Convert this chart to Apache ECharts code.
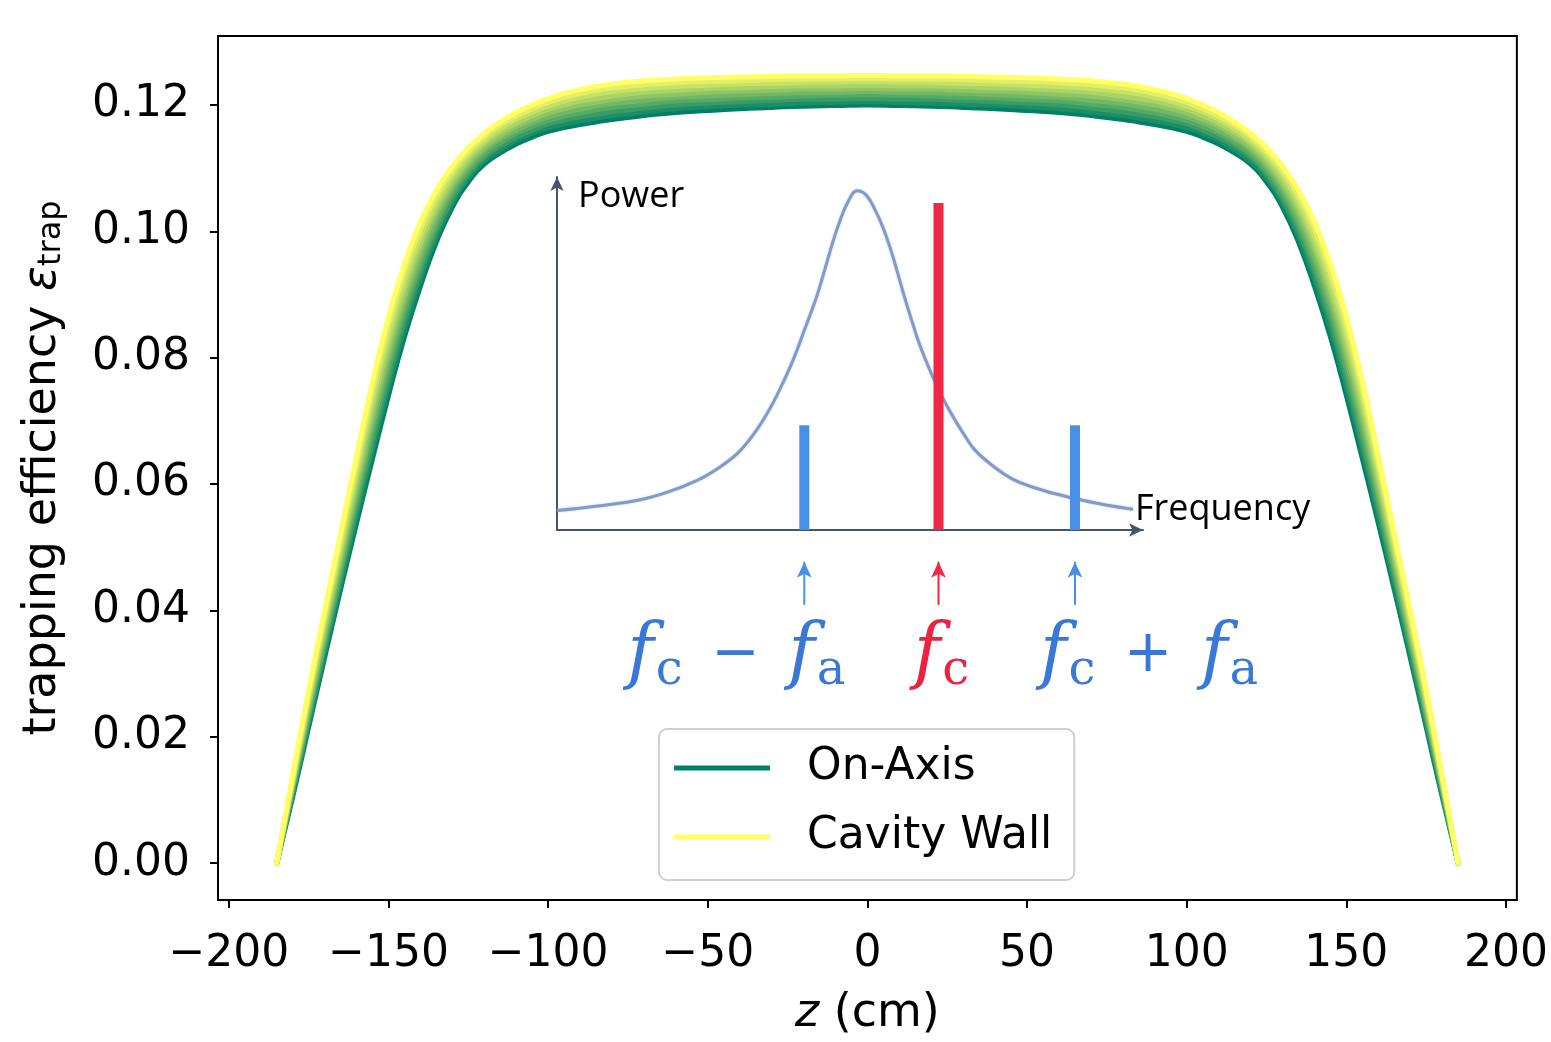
<!DOCTYPE html>
<html>
<head>
<meta charset="utf-8">
<script src="https://cdn.jsdelivr.net/npm/echarts@6/dist/echarts.min.js"></script>
<style>
html,body{margin:0;padding:0;background:#fff;}
#chart{width:1551px;height:1042px;}
</style>
</head>
<body>
<div id="chart"></div>
<script>
// ---------- main chart data ----------
const zValues = [-185,-180,-175,-170,-165,-160,-155,-150,-145,-140,-135,-130,-125,-120,-115,-110,-105,-100,-95,-90,-85,-80,-70,-60,-50,-40,-30,-20,-10,0,10,20,30,40,50,60,70,80,85,90,95,100,105,110,115,120,125,130,135,140,145,150,155,160,165,170,175,180,185];

const curveOnAxis = [0,0.0105,0.0215,0.0325,0.0433,0.0538,0.0640,0.0740,0.0833,0.0913,0.0983,0.1038,0.1078,0.1106,0.1124,0.1138,0.1149,0.1158,0.1164,0.1169,0.1173,0.1177,0.1183,0.1188,0.1191,0.1194,0.1196,0.1198,0.1199,0.1200,
  0.1199,0.1198,0.1196,0.1194,0.1191,0.1188,0.1183,0.1177,0.1173,0.1169,0.1164,0.1158,0.1149,0.1138,0.1124,0.1106,0.1078,0.1038,0.0983,0.0913,0.0833,0.0740,0.0640,0.0538,0.0433,0.0325,0.0215,0.0105,0];
const curveR1 = [0,0.0109,0.0222,0.0333,0.0443,0.0550,0.0654,0.0754,0.0846,0.0924,0.0992,0.1045,0.1084,0.1111,0.1129,0.1144,0.1155,0.1164,0.1170,0.1175,0.1179,0.1183,0.1189,0.1194,0.1197,0.1200,0.1201,0.1203,0.1204,0.1205,
  0.1204,0.1203,0.1201,0.1200,0.1197,0.1194,0.1189,0.1183,0.1179,0.1175,0.1170,0.1164,0.1155,0.1144,0.1129,0.1111,0.1084,0.1045,0.0992,0.0924,0.0846,0.0754,0.0654,0.0550,0.0443,0.0333,0.0222,0.0109,0];
const curveR2 = [0,0.0113,0.0228,0.0342,0.0453,0.0562,0.0667,0.0768,0.0859,0.0936,0.1001,0.1052,0.1090,0.1117,0.1135,0.1149,0.1160,0.1170,0.1176,0.1181,0.1185,0.1189,0.1195,0.1200,0.1203,0.1205,0.1207,0.1209,0.1209,0.1210,
  0.1209,0.1209,0.1207,0.1205,0.1203,0.1200,0.1195,0.1189,0.1185,0.1181,0.1176,0.1170,0.1160,0.1149,0.1135,0.1117,0.1090,0.1052,0.1001,0.0936,0.0859,0.0768,0.0667,0.0562,0.0453,0.0342,0.0228,0.0113,0];
const curveR3 = [0,0.0117,0.0235,0.0350,0.0463,0.0574,0.0681,0.0782,0.0872,0.0947,0.1010,0.1060,0.1096,0.1122,0.1140,0.1155,0.1166,0.1175,0.1182,0.1187,0.1192,0.1196,0.1201,0.1206,0.1208,0.1211,0.1212,0.1214,0.1215,0.1216,
  0.1215,0.1214,0.1212,0.1211,0.1208,0.1206,0.1201,0.1196,0.1192,0.1187,0.1182,0.1175,0.1166,0.1155,0.1140,0.1122,0.1096,0.1060,0.1010,0.0947,0.0872,0.0782,0.0681,0.0574,0.0463,0.0350,0.0235,0.0117,0];
const curveR4 = [0,0.0121,0.0242,0.0359,0.0473,0.0586,0.0695,0.0796,0.0885,0.0958,0.1019,0.1067,0.1102,0.1128,0.1146,0.1160,0.1172,0.1181,0.1188,0.1193,0.1198,0.1202,0.1207,0.1212,0.1214,0.1216,0.1218,0.1219,0.1220,0.1221,
  0.1220,0.1219,0.1218,0.1216,0.1214,0.1212,0.1207,0.1202,0.1198,0.1193,0.1188,0.1181,0.1172,0.1160,0.1146,0.1128,0.1102,0.1067,0.1019,0.0958,0.0885,0.0796,0.0695,0.0586,0.0473,0.0359,0.0242,0.0121,0];
const curveR5 = [0,0.0124,0.0248,0.0367,0.0483,0.0597,0.0708,0.0809,0.0897,0.0970,0.1029,0.1074,0.1108,0.1133,0.1151,0.1166,0.1177,0.1187,0.1194,0.1200,0.1204,0.1208,0.1214,0.1217,0.1220,0.1222,0.1223,0.1225,0.1225,0.1226,
  0.1225,0.1225,0.1223,0.1222,0.1220,0.1217,0.1214,0.1208,0.1204,0.1200,0.1194,0.1187,0.1177,0.1166,0.1151,0.1133,0.1108,0.1074,0.1029,0.0970,0.0897,0.0809,0.0708,0.0597,0.0483,0.0367,0.0248,0.0124,0];
const curveR6 = [0,0.0128,0.0255,0.0376,0.0493,0.0609,0.0722,0.0823,0.0910,0.0981,0.1038,0.1081,0.1114,0.1139,0.1157,0.1171,0.1183,0.1193,0.1200,0.1206,0.1210,0.1214,0.1220,0.1223,0.1226,0.1227,0.1229,0.1230,0.1230,0.1231,
  0.1230,0.1230,0.1229,0.1227,0.1226,0.1223,0.1220,0.1214,0.1210,0.1206,0.1200,0.1193,0.1183,0.1171,0.1157,0.1139,0.1114,0.1081,0.1038,0.0981,0.0910,0.0823,0.0722,0.0609,0.0493,0.0376,0.0255,0.0128,0];
const curveR7 = [0,0.0132,0.0262,0.0384,0.0503,0.0621,0.0736,0.0837,0.0923,0.0992,0.1047,0.1089,0.1120,0.1144,0.1162,0.1177,0.1189,0.1198,0.1206,0.1212,0.1217,0.1221,0.1226,0.1229,0.1231,0.1233,0.1234,0.1235,0.1236,0.1237,
  0.1236,0.1235,0.1234,0.1233,0.1231,0.1229,0.1226,0.1221,0.1217,0.1212,0.1206,0.1198,0.1189,0.1177,0.1162,0.1144,0.1120,0.1089,0.1047,0.0992,0.0923,0.0837,0.0736,0.0621,0.0503,0.0384,0.0262,0.0132,0];
const curveR8 = [0,0.0136,0.0268,0.0393,0.0513,0.0633,0.0749,0.0851,0.0936,0.1004,0.1056,0.1096,0.1126,0.1150,0.1168,0.1182,0.1194,0.1204,0.1212,0.1218,0.1223,0.1227,0.1232,0.1235,0.1237,0.1238,0.1240,0.1241,0.1241,0.1242,
  0.1241,0.1241,0.1240,0.1238,0.1237,0.1235,0.1232,0.1227,0.1223,0.1218,0.1212,0.1204,0.1194,0.1182,0.1168,0.1150,0.1126,0.1096,0.1056,0.1004,0.0936,0.0851,0.0749,0.0633,0.0513,0.0393,0.0268,0.0136,0];
const curveCavityWall = [0,0.0140,0.0275,0.0401,0.0523,0.0645,0.0763,0.0865,0.0949,0.1015,0.1065,0.1103,0.1132,0.1155,0.1173,0.1188,0.1200,0.1210,0.1218,0.1224,0.1229,0.1233,0.1238,0.1241,0.1243,0.1244,0.1245,0.1246,0.1246,0.1247,
  0.1246,0.1246,0.1245,0.1244,0.1243,0.1241,0.1238,0.1233,0.1229,0.1224,0.1218,0.1210,0.1200,0.1188,0.1173,0.1155,0.1132,0.1103,0.1065,0.1015,0.0949,0.0865,0.0763,0.0645,0.0523,0.0401,0.0275,0.0140,0];

const curveList = [curveOnAxis, curveR1, curveR2, curveR3, curveR4, curveR5, curveR6, curveR7, curveR8, curveCavityWall];
const curveNames = ['On-Axis','','','','','','','','','Cavity Wall'];
const curveColors = ['#008066','#1c8e66','#389c66','#55aa66','#71b866','#8ec666','#aad466','#c6e266','#e3f066','#ffff66'];

const xTickValues = [-200,-150,-100,-50,0,50,100,150,200];
const yTickValues = [0,0.02,0.04,0.06,0.08,0.10,0.12];

// ---------- inset schematic data ----------
const lorentzX = [0, 7, 14, 19, 24.1, 27.5, 30.8, 33.5, 36.2, 38.3, 40.3, 42.3, 44.3, 45.7, 47.0, 48.2, 49.6, 51.2, 52.8, 54.3, 55.6, 56.9, 58.1, 59.3, 60.6, 61.8, 63.2, 64.6, 66.2, 67.9, 69.6, 71.3, 74.5, 78.0, 83.0, 88.2, 93.0, 98.3];
const lorentzY = [5.5, 6.8, 8.5, 10.8, 14.2, 17.5, 21.7, 27.0, 34.0, 40.8, 48.2, 57.0, 66.1, 73.8, 81.2, 87.2, 92.8, 96.1, 94.8, 90.6, 85.8, 79.7, 73.0, 66.0, 59.0, 52.9, 47.0, 41.6, 36.2, 31.2, 26.7, 22.7, 18.0, 14.2, 11.2, 9.0, 7.3, 5.9];
const specLineX = [42.2, 65.1, 88.4];
const specLineH = [29.7, 92.6, 29.7];
const specLineColors = ['#4a8fe7', '#ef2846', '#4a8fe7'];
const arrowTailY = -21.2;
const arrowHeadY = -9.0;
const mathLabels = ['{f|f}{s|c}{o| − }{f|f}{s|a}', '{f|f}{s|c}', '{f|f}{s|c}{o| + }{f|f}{s|a}'];
const mathLabelOffsets = [-68, 3, 74];
const mathColors = ['#3a78d8', '#ea2340', '#3a78d8'];

// ---------- build option ----------
const series = [];
curveList.forEach((vals, i) => {
  series.push({
    type: 'line',
    name: curveNames[i] || ('r' + i),
    xAxisIndex: 0, yAxisIndex: 0,
    data: zValues.map((z, j) => [z, vals[j]]),
    smooth: 0.5,
    showSymbol: false,
    symbol: 'none',
    silent: true,
    z: 2 + i * 0.01,
    itemStyle: {color: curveColors[i]},
    lineStyle: {color: curveColors[i], width: 5, cap: 'round', join: 'round'}
  });
});

series.push({
  type: 'line',
  name: 'lorentz',
  xAxisIndex: 1, yAxisIndex: 1,
  data: lorentzX.map((x, i) => [x, lorentzY[i]]),
  smooth: 0.4,
  symbol: 'none',
  silent: true,
  z: 5,
  lineStyle: {color: '#7a95c5', width: 3, opacity: 0.9, shadowBlur: 2, shadowColor: 'rgba(122,149,197,0.6)'}
});

specLineX.forEach((x, i) => {
  series.push({
    type: 'line',
    name: 'spec' + i,
    xAxisIndex: 1, yAxisIndex: 1,
    data: [[x, 0], [x, specLineH[i]]],
    symbol: 'none',
    silent: true,
    z: 6,
    lineStyle: {color: specLineColors[i], width: 10, cap: 'butt'}
  });
  series.push({
    type: 'line',
    name: 'arrow' + i,
    xAxisIndex: 1, yAxisIndex: 1,
    clip: false,
    silent: true,
    z: 6,
    data: [
      {value: [x, arrowTailY], symbol: 'none'},
      {value: [x, arrowHeadY], symbol: 'arrow', symbolSize: [11, 16]}
    ],
    itemStyle: {color: specLineColors[i]},
    lineStyle: {color: specLineColors[i], width: 2}
  });
  const mc = mathColors[i];
  series.push({
    type: 'scatter',
    name: 'mathlabel' + i,
    xAxisIndex: 1, yAxisIndex: 1,
    clip: false,
    silent: true,
    z: 7,
    symbolSize: 1,
    itemStyle: {color: 'rgba(255,255,255,0)', opacity: 1},
    data: [[x, arrowTailY]],
    label: {show: true, position: 'bottom', distance: 12, offset: [mathLabelOffsets[i], 0],
      formatter: mathLabels[i],
      rich: {
        f: {fontFamily: 'DejaVu Serif', fontStyle: 'italic', fontSize: 72, color: mc},
        s: {fontFamily: 'DejaVu Serif', fontSize: 48, color: mc, padding: [30, 0, 0, 2]},
        o: {fontFamily: 'DejaVu Sans', fontSize: 58, color: mc, padding: [0, 10, 0, 10]}
      }}
  });
});

const option = {
  animation: false,
  backgroundColor: '#ffffff',
  grid: [
    {left: 218, right: 34, top: 36, bottom: 139, show: true, borderColor: '#000', borderWidth: 2, backgroundColor: 'transparent', containLabel: false},
    {left: 557, top: 177, width: 586, height: 353, show: false, containLabel: false}
  ],
  legend: {
    data: [{name: 'On-Axis', icon: 'rect'}, {name: 'Cavity Wall', icon: 'rect'}],
    orient: 'vertical',
    left: 659, top: 729,
    itemWidth: 96, itemHeight: 5, itemGap: 19,
    padding: [14, 22, 18, 15],
    backgroundColor: 'rgba(255,255,255,0.85)',
    borderColor: '#d0d0d0', borderWidth: 2, borderRadius: 8,
    selectedMode: false,
    textStyle: {fontFamily: 'DejaVu Sans', fontSize: 44, color: '#000', padding: [0, 0, 0, 32], lineHeight: 50}
  },
  xAxis: [
    {
      type: 'value', gridIndex: 0, min: -203.4, max: 203.4,
      name: '{i|z}{n| (cm)}', nameLocation: 'middle', nameGap: 91,
      nameTextStyle: {rich: {
        i: {fontFamily: 'DejaVu Sans', fontStyle: 'italic', fontSize: 46, color: '#000'},
        n: {fontFamily: 'DejaVu Sans', fontSize: 46, color: '#000'}
      }},
      axisLine: {show: false, onZero: false},
      splitLine: {show: false},
      axisTick: {show: true, inside: false, length: 8, customValues: xTickValues, lineStyle: {color: '#000', width: 2}},
      axisLabel: {show: true, customValues: xTickValues, margin: 33, fontFamily: 'DejaVu Sans', fontSize: 44, color: '#000',
        formatter: v => (v < 0 ? '\u2212' + Math.abs(v) : String(v))}
    },
    {
      type: 'value', gridIndex: 1, min: 0, max: 100,
      name: 'Frequency', nameLocation: 'end', nameGap: -8,
      nameTextStyle: {fontFamily: 'Open Sans', fontSize: 36, color: '#000', align: 'left', verticalAlign: 'bottom', padding: [0, 0, 2, 0]},
      axisLine: {show: true, onZero: false, symbol: ['none', 'arrow'], symbolSize: [10, 14], lineStyle: {color: '#44546a', width: 2}},
      axisTick: {show: false}, axisLabel: {show: false}, splitLine: {show: false}
    }
  ],
  yAxis: [
    {
      type: 'value', gridIndex: 0, min: -0.00583, max: 0.1309,
      name: '{a|trapping efficiency }{e|ε}{s|trap}', nameLocation: 'middle', nameGap: 150,
      nameTextStyle: {rich: {
        a: {fontFamily: 'DejaVu Sans', fontSize: 46, color: '#000'},
        e: {fontFamily: 'DejaVu Sans', fontStyle: 'italic', fontSize: 46, color: '#000'},
        s: {fontFamily: 'DejaVu Sans', fontSize: 32, color: '#000', padding: [18, 0, 0, 0]}
      }},
      axisLine: {show: false, onZero: false},
      splitLine: {show: false},
      axisTick: {show: true, inside: false, length: 8, customValues: yTickValues, lineStyle: {color: '#000', width: 2}},
      axisLabel: {show: true, customValues: yTickValues, margin: 28, fontFamily: 'DejaVu Sans', fontSize: 44, color: '#000',
        formatter: v => v.toFixed(2)}
    },
    {
      type: 'value', gridIndex: 1, min: 0, max: 100,
      name: 'Power', nameLocation: 'end', nameGap: -2,
      nameTextStyle: {fontFamily: 'Open Sans', fontSize: 36, color: '#000', align: 'left', verticalAlign: 'top', padding: [0, 0, 0, 21]},
      axisLine: {show: true, onZero: false, symbol: ['none', 'arrow'], symbolSize: [10, 14], lineStyle: {color: '#44546a', width: 2}},
      axisTick: {show: false}, axisLabel: {show: false}, splitLine: {show: false}
    }
  ],
  series: series
};

const chart = echarts.init(document.getElementById('chart'), null, {renderer: 'canvas'});
chart.setOption(option);
</script>
</body>
</html>
